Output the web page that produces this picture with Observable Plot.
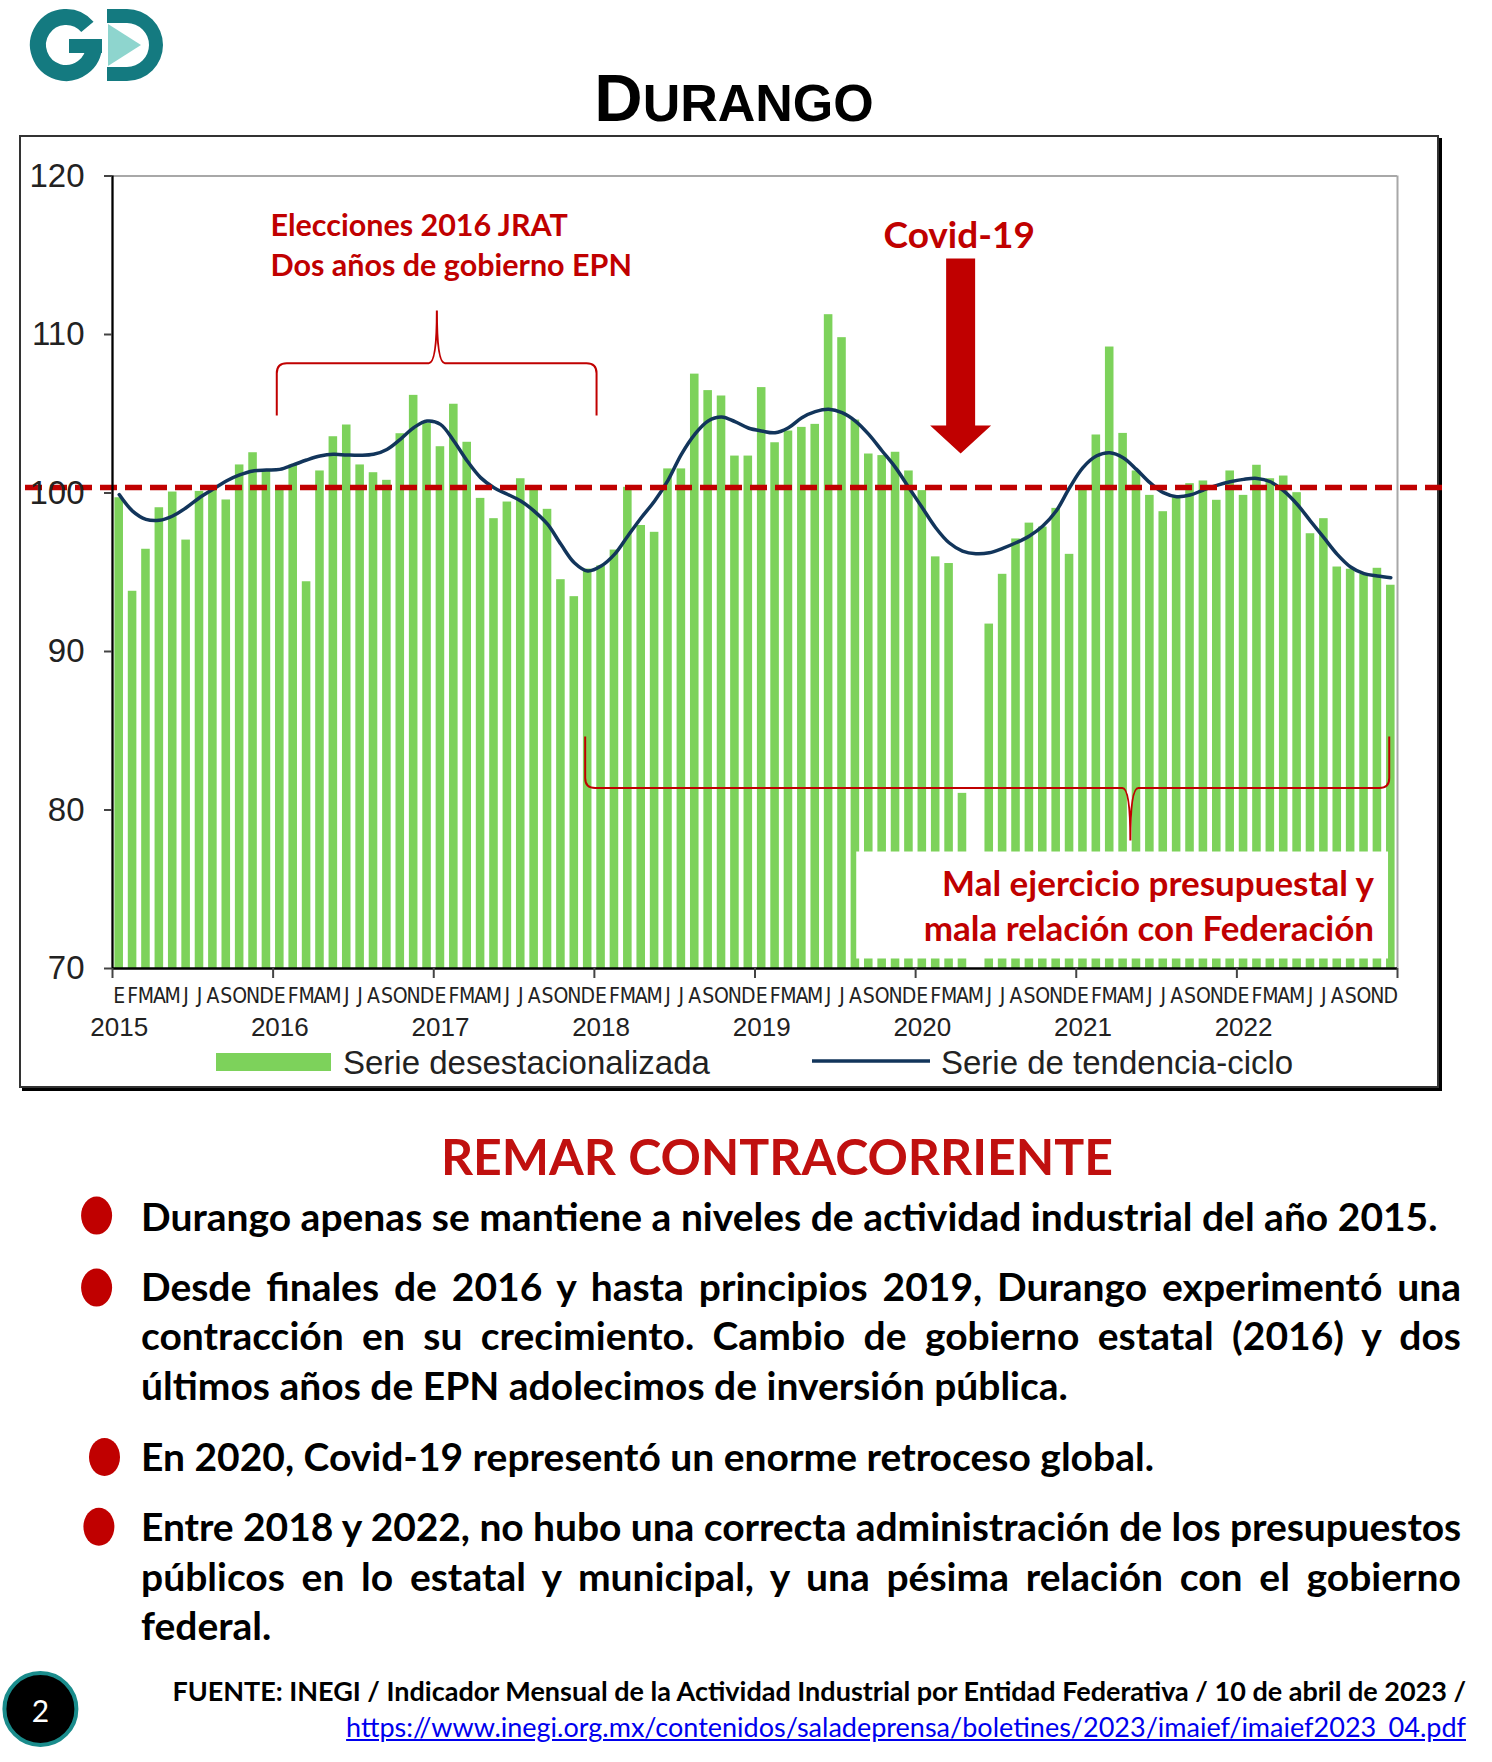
<!DOCTYPE html>
<html>
<head>
<meta charset="utf-8">
<script src="https://cdn.jsdelivr.net/npm/d3@7"></script>
<script src="https://cdn.jsdelivr.net/npm/@observablehq/plot@0.6"></script>
<style>
  body { margin: 0; background: #fff; }
  #page { position: relative; width: 1492px; height: 1762px; overflow: hidden; background: #fff; }
  .abs { position: absolute; }
  .ln { position: absolute; left: 141px; width: 1320px; font-family: Lato, "Open Sans", sans-serif; font-weight: 700; font-size: 39px; line-height: 46px; color: #000; white-space: nowrap; }
  .just { text-align: justify; text-align-last: justify; }
</style>
</head>
<body>
<div id="page">
  <div id="frame" class="abs" style="left:19px;top:135px;width:1416px;height:949px;border:2px solid #333;box-shadow:3px 3px 0 #000;"></div>
  <div id="chart" class="abs" style="left:0;top:0;"></div>
  <svg id="deco" class="abs" width="1492" height="1762" style="left:0;top:0;pointer-events:none"></svg>
  <div id="texts"></div>
</div>
<script>
// ---------- data ----------
const years = [2015, 2016, 2017, 2018, 2019, 2020, 2021, 2022];
const months = ["E","F","M","A","M","J","J","A","S","O","N","D"];
const yTicks = [70, 80, 90, 100, 110, 120];

// Serie desestacionalizada (monthly, Jan 2015 - Dec 2022); May 2020 falls below the axis
const desestacionalizada = [
  99.7, 93.8, 96.45, 99.07, 100.06, 97.03, 100.1, 100.2, 99.56, 101.77, 102.54, 101.4,
  100.3, 101.77, 94.4, 101.39, 103.55, 104.29, 101.77, 101.28, 100.8, 103.74, 106.16, 104.4,
  102.92, 105.6, 103.2, 99.66, 98.38, 99.43, 100.9, 100.2, 98.97, 94.53, 93.46, 95.2,
  95.4, 96.4, 100.36, 97.95, 97.52, 101.52, 101.52, 107.5, 106.46, 106.12, 102.33, 102.33,
  106.65, 103.17, 103.91, 104.14, 104.33, 111.25, 109.8, 104.6, 102.46, 102.36, 102.57, 101.39,
  100.15, 95.97, 95.55, 81.05, 65.0, 91.73, 94.87, 97.1, 98.1, 97.85, 99.03, 96.13,
  100.17, 103.66, 109.21, 103.76, 101.39, 99.85, 98.82, 99.7, 100.59, 100.76, 99.54, 101.39,
  99.85, 101.75, 100.9, 101.07, 100.02, 97.43, 98.38, 95.33, 95.19, 94.87, 95.25, 94.18
];

// Serie de tendencia-ciclo
const tendencia = [
  99.9, 98.86, 98.34, 98.28, 98.55, 99.07, 99.7, 100.23, 100.76, 101.14, 101.39, 101.45,
  101.49, 101.77, 102.08, 102.33, 102.44, 102.4, 102.38, 102.44, 102.75, 103.39, 104.12, 104.54,
  104.33, 103.28, 102.02, 100.97, 100.33, 99.92, 99.5, 98.86, 98.03, 96.76, 95.6, 95.08,
  95.39, 96.13, 97.29, 98.44, 99.5, 100.8, 102.44, 103.7, 104.54, 104.79, 104.5, 104.1,
  103.91, 103.8, 104.12, 104.75, 105.13, 105.28, 105.07, 104.54, 103.7, 102.65, 101.6, 100.33,
  99.07, 97.81, 96.86, 96.34, 96.17, 96.23, 96.51, 96.86, 97.29, 97.92, 98.86, 100.33,
  101.6, 102.33, 102.54, 102.23, 101.49, 100.65, 100.02, 99.77, 99.87, 100.19, 100.48, 100.71,
  100.86, 100.92, 100.71, 100.13, 99.29, 98.23, 97.18, 96.13, 95.33, 94.91, 94.76, 94.66
];

const nivelReferencia = 100.35;   // dashed red reference line

// annotations (in data units: x = month index from Jan 2015, y = index value)
const annotElecciones = ["Elecciones 2016 JRAT", "Dos años de gobierno EPN"];
const annotCovid = "Covid-19";
const annotMal = ["Mal ejercicio presupuestal y", "mala relación con Federación"];

const titulo = "Durango";
const legendBars = "Serie desestacionalizada";
const legendLine = "Serie de tendencia-ciclo";
const headline = "REMAR CONTRACORRIENTE";
const bullets = [
  ["Durango apenas se mantiene a niveles de actividad industrial del año 2015."],
  ["Desde finales de 2016 y hasta principios 2019, Durango experimentó una",
   "contracción en su crecimiento. Cambio de gobierno estatal (2016) y dos",
   "últimos años de EPN adolecimos de inversión pública."],
  ["En 2020, Covid-19 representó un enorme retroceso global."],
  ["Entre 2018 y 2022, no hubo una correcta administración de los presupuestos",
   "públicos en lo estatal y municipal, y una pésima relación con el gobierno",
   "federal."]
];
const fuente = "FUENTE: INEGI / Indicador Mensual de la Actividad Industrial por Entidad Federativa / 10 de abril de 2023 /";
const url = "https://www.inegi.org.mx/contenidos/saladeprensa/boletines/2023/imaief/imaief2023_04.pdf";
const pagina = "2";

// ---------- build ----------
const RED = "#c00000", GREEN = "#7dd25b", NAVY = "#12355b";
const data = desestacionalizada.map((v, i) => ({i, v, t: tendencia[i]}));
const monthLabels = years.flatMap((y, k) => months.map((m, j) => ({pos: 12 * k + j + 0.5, m})));
const yearLabels = years.map((y, k) => ({pos: 12 * k + 0.5, y: String(y)}));
const yearBounds = d3.range(0, years.length * 12 + 1, 12);
const ARIAL = "'Liberation Sans', Arial, sans-serif";
const NARROW = "'Liberation Sans Narrow', 'Arial Narrow', 'DejaVu Sans Condensed', sans-serif";
const CAL = "Lato, 'Open Sans', sans-serif";

const chart = Plot.plot({
  width: 1492, height: 1100,
  marginLeft: 112, marginRight: 95, marginTop: 175.5, marginBottom: 132,
  x: {type: "linear", domain: [0, years.length * 12], axis: null},
  y: {domain: [70, 120], axis: null},
  style: {background: "transparent", fontFamily: ARIAL, overflow: "visible"},
  marks: [
    Plot.rectY(data, {x1: d => d.i + 0.18, x2: d => d.i + 0.82, y1: 70, y2: "v", fill: GREEN, clip: true}),
    Plot.ruleY([120], {stroke: "#a8a8a8", strokeWidth: 2}),
    Plot.ruleX([years.length * 12], {stroke: "#a8a8a8", strokeWidth: 2}),
    Plot.line(data, {x: d => d.i + 0.5, y: "t", stroke: NAVY, strokeWidth: 3.5, curve: "catmull-rom"}),
    Plot.ruleY([nivelReferencia], {stroke: RED, strokeWidth: 5.5, strokeDasharray: "17 8", insetLeft: -87, insetRight: -52}),
    Plot.ruleX([0], {stroke: "#000", strokeWidth: 2.3}),
    Plot.ruleY([70], {stroke: "#000", strokeWidth: 2.3}),
    Plot.axisY({ticks: yTicks, tickSize: 8, tickPadding: 20, fontSize: 33, fontFamily: ARIAL, stroke: "#444", strokeWidth: 2, fill: "#222"}),
    Plot.axisX({ticks: yearBounds, tickSize: 10, tickFormat: () => "", stroke: "#444", strokeWidth: 2}),
    Plot.text(monthLabels, {x: "pos", text: "m", frameAnchor: "bottom", dy: 34, fontSize: 21, fontFamily: NARROW, fill: "#222"}),
    Plot.text(yearLabels, {x: "pos", text: "y", frameAnchor: "bottom", dy: 67, fontSize: 26, fontFamily: ARIAL, fill: "#222"}),
    // white box for the bottom annotation
    Plot.rect([{x1: 55.6, x2: 95.33, y1: 70.6, y2: 77.35}], {x1: "x1", x2: "x2", y1: "y1", y2: "y2", fill: "white"}),
    Plot.text(annotMal, {x: 94.25, y: (d, k) => [75.25, 72.45][k], text: d => d, textAnchor: "end", fontSize: 35, fontWeight: "bold", fontFamily: CAL, fill: RED}),
    Plot.text(annotElecciones, {x: 11.8, y: (d, k) => [116.86, 114.3][k], text: d => d, textAnchor: "start", fontSize: 30.5, fontWeight: "bold", fontFamily: CAL, fill: RED}),
    Plot.text([annotCovid], {x: 63.26, y: 116.23, text: d => d, fontSize: 37, fontWeight: "bold", fontFamily: CAL, fill: RED})
  ]
});
document.getElementById("chart").appendChild(chart);

// braces and arrow drawn with the chart's scales
const sx = chart.scale("x"), sy = chart.scale("y");
const X = v => sx.apply(v), Y = v => sy.apply(v);
function brace(xL, xR, xM, yEnd, yH, yTip, r, c) {
  const s = Math.sign(yEnd - yH);
  return `M${xL},${yEnd} L${xL},${yH + s * r} Q${xL},${yH} ${xL + r},${yH} L${xM - c},${yH} Q${xM},${yH} ${xM},${yTip} Q${xM},${yH} ${xM + c},${yH} L${xR - r},${yH} Q${xR},${yH} ${xR},${yH + s * r} L${xR},${yEnd}`;
}
const svg = d3.select(chart);
const braces = [
  {xL: 12.31, xR: 36.2, xM: 24.27, yEnd: 104.86, yH: 108.16, yTip: 111.48},
  {xL: 35.35, xR: 95.42, xM: 76.08, yEnd: 84.6, yH: 81.35, yTip: 78.04}
];
braces.forEach(b => {
  svg.append("path")
    .attr("d", brace(X(b.xL), X(b.xR), X(b.xM), Y(b.yEnd), Y(b.yH), Y(b.yTip), 10, 8))
    .attr("fill", "none").attr("stroke", RED).attr("stroke-width", 2);
});
const arrow = {x: 63.4, yTop: 114.76, yBase: 104.23, yTip: 102.46};
{
  const cx = X(arrow.x), t = Y(arrow.yTop), b = Y(arrow.yBase), tip = Y(arrow.yTip);
  const sw = 14.5, hw = 30.5;
  svg.append("path")
    .attr("d", `M${cx - sw},${t} L${cx + sw},${t} L${cx + sw},${b} L${cx + hw},${b} L${cx},${tip} L${cx - hw},${b} L${cx - sw},${b} Z`)
    .attr("fill", RED);
}

// ---------- decorations ----------
const deco = d3.select("#deco");
// logo
const TEAL = "#147a80", LTEAL = "#8ed5ce";
deco.append("path").attr("d", "M" + (66 + 28 * Math.cos(-0.7)) + "," + (45 + 28 * Math.sin(-0.7)) + " A28,28 0 1 0 94,45")
  .attr("fill", "none").attr("stroke", TEAL).attr("stroke-width", 16);
deco.append("rect").attr("x", 69).attr("y", 39).attr("width", 33).attr("height", 14).attr("fill", TEAL);
deco.append("path").attr("d", "M107,9 H127 A36,36 0 0 1 127,81 H107 V67 H127 A22,22 0 0 0 127,23 H107 Z").attr("fill", TEAL);
deco.append("path").attr("d", "M108,24 L108,66 L141,45 Z").attr("fill", LTEAL);

// title (small caps)
const tt = deco.append("text").attr("x", 734).attr("y", 121).attr("text-anchor", "middle")
  .attr("font-family", ARIAL).attr("font-weight", "bold").attr("fill", "#000");
tt.append("tspan").attr("font-size", 67).text(titulo[0].toUpperCase());
tt.append("tspan").attr("font-size", 52).text(titulo.slice(1).toUpperCase());

// legend
deco.append("rect").attr("x", 216).attr("y", 1053).attr("width", 115).attr("height", 18).attr("fill", GREEN);
deco.append("text").attr("x", 343).attr("y", 1062).attr("dominant-baseline", "central")
  .attr("font-family", ARIAL).attr("font-size", 33).attr("fill", "#222").text(legendBars);
deco.append("line").attr("x1", 812).attr("x2", 930).attr("y1", 1061).attr("y2", 1061).attr("stroke", NAVY).attr("stroke-width", 3.5);
deco.append("text").attr("x", 941).attr("y", 1062).attr("dominant-baseline", "central")
  .attr("font-family", ARIAL).attr("font-size", 33).attr("fill", "#222").text(legendLine);

// bullets markers
const bulletMarks = [[96.6, 1215.6], [96.6, 1287.6], [104.5, 1457], [98.9, 1526.8]];
bulletMarks.forEach(([cx, cy]) => deco.append("ellipse").attr("cx", cx).attr("cy", cy).attr("rx", 15.5).attr("ry", 19).attr("fill", RED));

// page number
deco.append("circle").attr("cx", 40.4).attr("cy", 1709).attr("r", 36).attr("fill", "#000").attr("stroke", "#1a8c8c").attr("stroke-width", 4);
deco.append("text").attr("x", 40.4).attr("y", 1710).attr("text-anchor", "middle").attr("dominant-baseline", "central")
  .attr("font-family", CAL).attr("font-size", 30).attr("fill", "#fff").text(pagina);

// ---------- HTML texts ----------
const texts = d3.select("#texts");
texts.append("div").attr("class", "abs")
  .style("left", "0px").style("width", "1554px").style("top", "1126px").style("text-align", "center")
  .style("font-family", CAL).style("font-weight", "700").style("font-size", "50px").style("line-height", "60px").style("color", "#c0100f")
  .text(headline);
const lineCenters = [[1216], [1286, 1335, 1385], [1456], [1526, 1576, 1625]];
bullets.forEach((para, p) => {
  para.forEach((line, k) => {
    const isLast = k === para.length - 1;
    const div = texts.append("div").attr("class", "ln" + (isLast ? "" : " just"))
      .style("top", (lineCenters[p][k] - 23) + "px");
    const span = div.append("span").text(line);
    // tighten a line slightly if it would overflow the text column
    const w = span.node().getBoundingClientRect().width;
    if (w > 1320) div.style("letter-spacing", (-(w - 1320) / line.length - 0.02) + "px");
  });
});
texts.append("div").attr("class", "abs")
  .style("right", (1492 - 1466) + "px").style("top", "1676px").style("font-family", CAL).style("font-weight", "700")
  .style("font-size", "27px").style("line-height", "30px").style("white-space", "nowrap").text(fuente);
texts.append("div").attr("class", "abs")
  .style("right", (1492 - 1466) + "px").style("top", "1712px").style("font-family", CAL)
  .style("font-size", "27px").style("line-height", "30px").style("white-space", "nowrap").style("color", "#0000ee").style("text-decoration", "underline")
  .text(url);
</script>
</body>
</html>
